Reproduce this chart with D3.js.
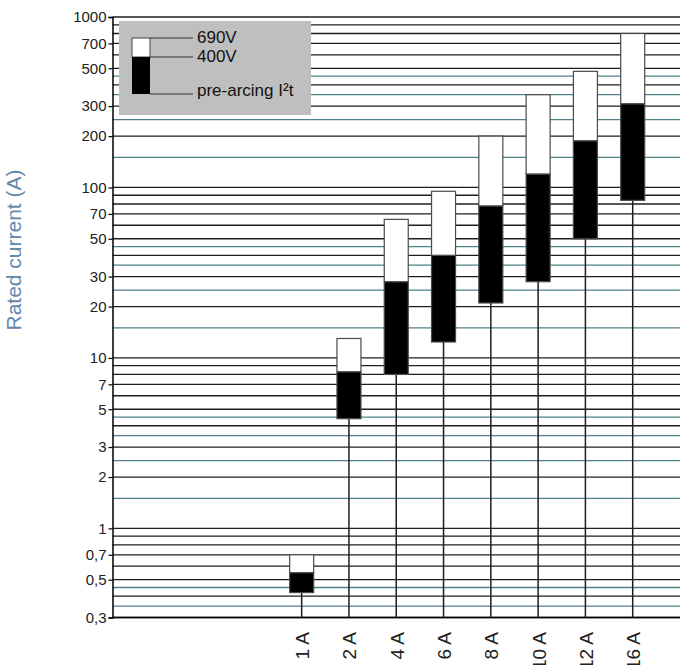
<!DOCTYPE html>
<html>
<head>
<meta charset="utf-8">
<script src="https://cdn.jsdelivr.net/npm/d3@7"></script>
<style>
  html, body { margin: 0; padding: 0; background: #fff; }
  svg { display: block; }
  text { font-family: Arial, "Liberation Sans", sans-serif; }
</style>
</head>
<body>
<svg id="chart" width="680" height="665"></svg>
<script>
// ---- data ----
const categories = ["1 A", "2 A", "4 A", "6 A", "8 A", "10 A", "12 A", "16 A"];
const preArcing  = [0.42, 4.4, 8, 12.4, 21, 28, 50, 84];     // bottom of black box
const volt400    = [0.55, 8.3, 28, 40, 78, 120, 188, 310];   // top of black box
const volt690    = [0.7, 13, 65, 95, 200, 350, 480, 800];    // top of white box
const yTickValues = [1000, 700, 500, 300, 200, 100, 70, 50, 30, 20, 10, 7, 5, 3, 2, 1, 0.7, 0.5, 0.3];
const yTickLabels = ["1000", "700", "500", "300", "200", "100", "70", "50", "30", "20", "10", "7", "5", "3", "2", "1", "0,7", "0,5", "0,3"];
const decades = [0.1, 1, 10, 100];
const tealMultipliers = [1.5, 2.5, 3.5, 4.5];
const legendLabels = ["690V", "400V", "pre-arcing I²t"];
const yTitle = "Rated current (A)";

// ---- layout ----
const svg = d3.select("#chart");
const mLeft = 112.5, mRight = 680, mTop = 17, mBottom = 617.5;

const y = d3.scaleLog().domain([0.3, 1000]).range([mBottom, mTop]);
const x = d3.scaleLinear().domain([-4, 8]).range([mLeft, mRight]);

// gridlines: black at 1..9 per decade (log ticks), teal at 1.5..4.5
const blackGrid = y.ticks().filter(v => v >= 0.3 && v <= 1000);
const tealGrid = [];
decades.forEach(d => tealMultipliers.forEach(m => {
  const v = +(d * m).toPrecision(3);
  if (v >= 0.3 && v <= 1000) tealGrid.push(v);
}));

svg.append("g").selectAll("line").data(tealGrid).join("line")
  .attr("x1", mLeft).attr("x2", mRight)
  .attr("y1", d => y(d)).attr("y2", d => y(d))
  .attr("stroke", "#4f8189").attr("stroke-width", 1.3);

svg.append("g").selectAll("line").data(blackGrid).join("line")
  .attr("x1", mLeft).attr("x2", mRight)
  .attr("y1", d => y(d)).attr("y2", d => y(d))
  .attr("stroke", "#1e1e1e").attr("stroke-width", 1.3);

// y axis
const yAxis = d3.axisLeft(y).tickValues(yTickValues)
  .tickFormat((d, i) => yTickLabels[i]).tickSize(4).tickPadding(2);
const gy = svg.append("g").attr("transform", `translate(${mLeft},0)`).call(yAxis);
gy.select(".domain").attr("stroke", "#000").attr("stroke-width", 1.5);
gy.selectAll(".tick line").attr("stroke", "#000").attr("stroke-width", 1.2);
gy.selectAll(".tick text").attr("font-size", 15).attr("fill", "#222")
  .attr("font-family", "Arial, 'Liberation Sans', sans-serif");

// bottom axis line
svg.append("line").attr("x1", mLeft).attr("x2", mRight)
  .attr("y1", mBottom).attr("y2", mBottom)
  .attr("stroke", "#000").attr("stroke-width", 1.5);

// vertical stems
svg.append("g").selectAll("line").data(categories).join("line")
  .attr("x1", (d, i) => x(i)).attr("x2", (d, i) => x(i))
  .attr("y1", mBottom).attr("y2", (d, i) => y(preArcing[i]))
  .attr("stroke", "#1e1e1e").attr("stroke-width", 1.5);

// bars
const bw = 24;
const bars = svg.append("g");
bars.selectAll("rect.low").data(categories).join("rect").attr("class", "low")
  .attr("x", (d, i) => x(i) - bw / 2).attr("width", bw)
  .attr("y", (d, i) => y(volt400[i]))
  .attr("height", (d, i) => y(preArcing[i]) - y(volt400[i]))
  .attr("fill", "#000").attr("stroke", "#4a4a4a").attr("stroke-width", 1.2);
bars.selectAll("rect.high").data(categories).join("rect").attr("class", "high")
  .attr("x", (d, i) => x(i) - bw / 2).attr("width", bw)
  .attr("y", (d, i) => y(volt690[i]))
  .attr("height", (d, i) => y(volt400[i]) - y(volt690[i]))
  .attr("fill", "#fff").attr("stroke", "#4a4a4a").attr("stroke-width", 1.2);

// category labels (rotated)
svg.append("g").selectAll("text").data(categories).join("text")
  .attr("transform", (d, i) => `translate(${x(i) + 7.5},632) rotate(-90)`)
  .attr("text-anchor", "end")
  .attr("font-size", 19).attr("fill", "#222")
  .text(d => d);

// y title
svg.append("text")
  .attr("transform", "translate(21,250) rotate(-90)")
  .attr("text-anchor", "middle")
  .attr("font-size", 21).attr("fill", "#6288ab")
  .text(yTitle);

// legend
const lg = svg.append("g");
lg.append("rect").attr("x", 119).attr("y", 21).attr("width", 192).attr("height", 94)
  .attr("fill", "#bfbfbf");
lg.append("rect").attr("x", 132).attr("y", 38).attr("width", 18).attr("height", 19)
  .attr("fill", "#fff").attr("stroke", "#444").attr("stroke-width", 1);
lg.append("rect").attr("x", 132).attr("y", 57).attr("width", 18).attr("height", 37)
  .attr("fill", "#000");
const legendY = [38, 57, 94];
lg.selectAll("line").data(legendY).join("line")
  .attr("x1", 150).attr("x2", 193)
  .attr("y1", d => d).attr("y2", d => d)
  .attr("stroke", "#333").attr("stroke-width", 1.2);
const legendTextY = [43, 62, 96];
lg.selectAll("text").data(legendLabels).join("text")
  .attr("x", 197).attr("y", (d, i) => legendTextY[i])
  .attr("font-size", 17).attr("fill", "#111")
  .text(d => d);
</script>
</body>
</html>
